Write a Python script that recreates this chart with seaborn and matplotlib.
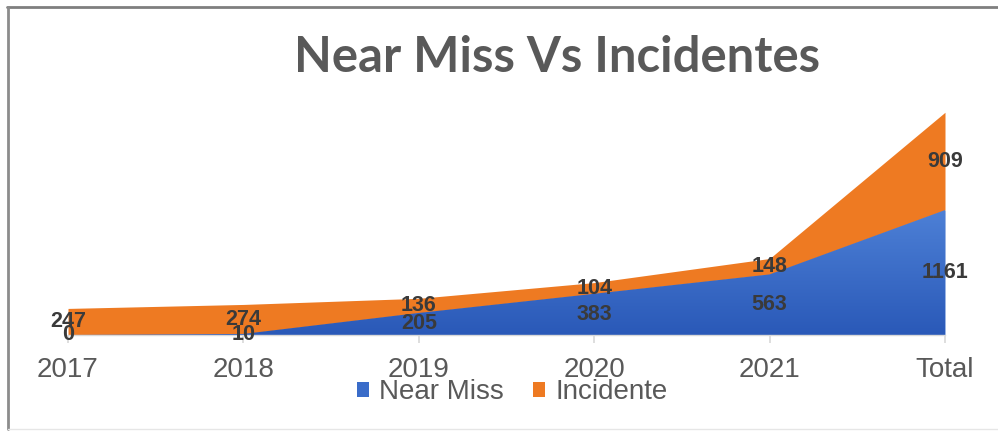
import numpy as np
import pandas as pd
import matplotlib
matplotlib.use("Agg")
import matplotlib.pyplot as plt
from matplotlib.lines import Line2D
from matplotlib.patches import Patch, PathPatch
import seaborn as sns

categories = ["2017", "2018", "2019", "2020", "2021", "Total"]
near_miss = [0, 10, 205, 383, 563, 1161]
incidente = [247, 274, 136, 104, 148, 909]

sns.set_theme(style="white")
plt.rcParams["font.family"] = ["Liberation Sans", "DejaVu Sans"]

df = pd.DataFrame({"Año": categories, "Near Miss": near_miss, "Incidente": incidente})
x = np.arange(len(df))

W, H = 998, 432
fig = plt.figure(figsize=(W / 100, H / 100), dpi=100)
fig.patch.set_facecolor("white")

# axes placed in pixel units
left_px, right_px, base_px, top_px = 68, 945, 335, 66
ax = fig.add_axes([left_px / W, (H - base_px) / H,
                   (right_px - left_px) / W, (base_px - top_px) / H])

blue = "#3a6cc9"
orange = "#ee7a22"
polys = ax.stackplot(x, df["Near Miss"], df["Incidente"],
                     colors=[blue, orange], linewidth=0)

# vertical gradient on the Near Miss band
grad = np.linspace(0, 1, 256).reshape(-1, 1)
cmap = matplotlib.colors.LinearSegmentedColormap.from_list("nm", ["#2a59b8", "#4d80d6"])
img = ax.imshow(grad, cmap=cmap, aspect="auto", origin="lower",
                extent=[0, len(df) - 1, 0, max(near_miss)], zorder=polys[0].get_zorder() + 0.1)
clip = PathPatch(polys[0].get_paths()[0], transform=ax.transData, facecolor="none", edgecolor="none")
ax.add_patch(clip)
img.set_clip_path(clip)
ax.set_xlim(0, len(df) - 1)
ax.set_ylim(0, 2500)

# labels centred in each band
label_kw = dict(ha="center", va="center", fontsize=15.5, fontweight="bold",
                color="#3a3a3a", zorder=5)
for i, (nm, inc) in enumerate(zip(df["Near Miss"], df["Incidente"])):
    ax.text(i, nm / 2, f"{nm}", **label_kw)
    ax.text(i, nm + inc / 2, f"{inc}", **label_kw)

ax.set_xticks(x)
ax.set_xticklabels(df["Año"], fontsize=20, color="#595959")
ax.set_yticks([])
for s in ["top", "right", "left"]:
    ax.spines[s].set_visible(False)
ax.spines["bottom"].set_color("#d9d9d9")
ax.spines["bottom"].set_linewidth(1)
ax.tick_params(axis="x", length=6, color="#d9d9d9", pad=10, bottom=True)
ax.set_facecolor("none")

fig.text(557.5 / W, (H - 72) / H, "Near Miss Vs Incidentes",
         ha="center", va="baseline", fontsize=35.3, fontweight="bold",
         color="#595959", family=["Lato", "Liberation Sans"])

handles = [Patch(facecolor=blue, edgecolor="none"),
           Patch(facecolor=orange, edgecolor="none")]
fig.legend(handles, ["Near Miss", "Incidente"], loc="center",
           bbox_to_anchor=(0.513, (H - 392) / H), ncol=2, frameon=False,
           fontsize=20, handlelength=0.45, handleheight=0.45, handletextpad=0.35,
           columnspacing=1.05, labelcolor="#595959")

# outer frame
fig.add_artist(Line2D([7 / W, 1], [(H - 7) / H] * 2, color="#7f7f7f", lw=2))
fig.add_artist(Line2D([8 / W] * 2, [(H - 7) / H, (H - 429) / H], color="#8c8c8c", lw=2))
fig.add_artist(Line2D([8 / W, 1], [(H - 429) / H] * 2, color="#e6e6e6", lw=1))

fig.savefig("out.png", dpi=100)
